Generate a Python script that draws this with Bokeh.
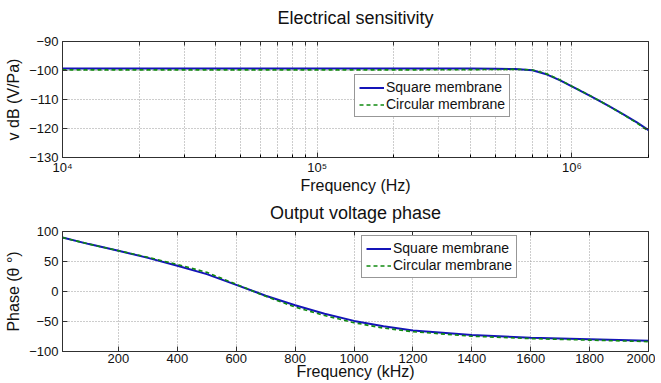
from bokeh.plotting import figure
from bokeh.layouts import column
from bokeh.models import (FixedTicker, CustomJSTickFormatter, Range1d, Legend, LegendItem,
                          LinearAxis, LogAxis)
from bokeh.embed import file_html
from bokeh.resources import INLINE

# ---------------- data ----------------
freq_hz = [1e4, 2e4, 5e4, 1e5, 2e5, 3e5, 4e5, 5e5, 6e5, 7e5, 8e5, 9e5,
           1e6, 1.2e6, 1.4e6, 1.6e6, 1.8e6, 2e6]
square_db = [-99.3, -99.3, -99.3, -99.3, -99.3, -99.3, -99.35, -99.4, -99.5, -99.9,
             -101.4, -103.4, -105.5, -109.1, -112.3, -115.2, -117.9, -120.6]
circular_db = [-99.8, -99.8, -99.8, -99.8, -99.8, -99.75, -99.7, -99.65, -99.6, -99.8,
               -101.2, -103.3, -105.4, -109.0, -112.3, -115.3, -118.1, -120.9]

freq_khz = [10, 100, 200, 300, 400, 500, 600, 700, 800, 900, 1000, 1100, 1200,
            1400, 1600, 1800, 2000]
square_phase = [90, 79, 68, 56, 43, 29, 11, -7, -23, -37, -49, -58, -65,
                -72.5, -77, -79.5, -82]
circular_phase = [90, 79, 68, 57, 45, 32, 12, -8, -26, -40, -52, -61, -67,
                  -74.5, -78.5, -81, -83.5]

top_yticks = [-130, -120, -110, -100, -90]
top_xticks = [1e4, 1e5, 1e6]
top_xminor = [2e4, 3e4, 4e4, 5e4, 6e4, 7e4, 8e4, 9e4,
              2e5, 3e5, 4e5, 5e5, 6e5, 7e5, 8e5, 9e5, 2e6]
bot_xticks = [200, 400, 600, 800, 1000, 1200, 1400, 1600, 1800, 2000]
bot_yticks = [-100, -50, 0, 50, 100]

labels = ["Square membrane", "Circular membrane"]
titles = ["Electrical sensitivity", "Output voltage phase"]

# ---------------- style ----------------
FONT = "Liberation Sans"
BLUE = "#1414b8"
GREEN = "#108a10"
GRID = "#9a9a9a"
W = 655


def style(p, title, xlabel, ylabel, xlabel_standoff):
    p.title.text = title
    p.title.text_font = FONT
    p.title.text_font_size = "18px"
    p.title.text_font_style = "normal"
    p.title.text_color = "#111111"
    p.title.align = "center"
    p.title.standoff = 2
    p.outline_line_color = "#303030"
    p.outline_line_alpha = 1
    p.background_fill_color = "white"
    p.border_fill_color = "white"
    for ax in (p.xaxis[0], p.yaxis[0]):
        ax.axis_label_text_font = FONT
        ax.axis_label_text_font_style = "normal"
        ax.axis_label_text_font_size = "16px"
        ax.axis_label_text_color = "#111111"
        ax.major_label_text_font = FONT
        ax.major_label_text_font_size = "13px"
        ax.major_label_text_color = "#111111"
        ax.axis_line_color = "#303030"
        ax.major_tick_in = 5
        ax.major_tick_out = 0
        ax.minor_tick_in = 0
        ax.minor_tick_out = 0
        ax.major_tick_line_color = "#303030"
    p.xaxis.axis_label = xlabel
    p.yaxis.axis_label = ylabel
    p.xaxis.major_label_standoff = 2
    p.xaxis.axis_label_standoff = xlabel_standoff
    p.yaxis.major_label_standoff = 4
    p.yaxis.axis_label_standoff = 4
    for g in (p.xgrid[0], p.ygrid[0]):
        g.grid_line_color = GRID
        g.grid_line_dash = "1 2"
        g.grid_line_width = 1


def top_box_axis(axis_cls, ticks, marks, gap):
    # MATLAB-style inward tick marks on the top side of the box; the invisible
    # outward major ticks only reserve room between the frame and the title
    ax = axis_cls(ticker=FixedTicker(ticks=ticks, minor_ticks=marks),
                  formatter=CustomJSTickFormatter(code="return ''"))
    ax.major_label_text_font_size = "1px"
    ax.major_label_standoff = 0
    ax.axis_line_color = None
    ax.major_tick_in = 0
    ax.major_tick_out = gap
    ax.major_tick_line_color = None
    ax.minor_tick_in = 4
    ax.minor_tick_out = 0
    ax.minor_tick_line_color = "#303030"
    return ax


def right_box_axis(ticks):
    ax = LinearAxis(ticker=FixedTicker(ticks=ticks),
                    formatter=CustomJSTickFormatter(code="return ''"))
    ax.major_label_text_font_size = "1px"
    ax.major_label_standoff = 0
    ax.axis_line_color = None
    ax.major_tick_in = 5
    ax.major_tick_out = 0
    ax.major_tick_line_color = "#303030"
    ax.minor_tick_in = 0
    ax.minor_tick_out = 0
    return ax


# ---------------- top figure ----------------
p1 = figure(width=W, height=196, x_axis_type="log",
            x_range=Range1d(1e4, 2e6), y_range=Range1d(-130, -90),
            output_backend="svg", toolbar_location=None,
            min_border_left=62, min_border_right=7, min_border_top=41,
            min_border_bottom=35)
style(p1, titles[0], "Frequency (Hz)", "v dB (V/Pa)", -1)
p1.xaxis.ticker = FixedTicker(ticks=top_xticks, minor_ticks=top_xminor)
p1.xaxis.minor_tick_in = 3
p1.xaxis.formatter = CustomJSTickFormatter(code="""
const sup = {4: '\u2074', 5: '\u2075', 6: '\u2076'};
const e = Math.round(Math.log10(tick));
return '10' + sup[e];
""")
p1.yaxis.ticker = FixedTicker(ticks=top_yticks)
p1.xgrid.minor_grid_line_color = GRID
p1.xgrid.minor_grid_line_dash = "1 2"
p1.add_layout(top_box_axis(LogAxis, top_xticks, top_xticks + top_xminor, 13), "above")
p1.add_layout(right_box_axis(top_yticks), "right")

r1 = p1.line(freq_hz, square_db, line_color=BLUE, line_width=2)
r2 = p1.line(freq_hz, circular_db, line_color=GREEN, line_width=1.6, line_dash="4 3")

# ---------------- bottom figure ----------------
p2 = figure(width=W, height=187,
            x_range=Range1d(10, 2000), y_range=Range1d(-100, 100),
            output_backend="svg", toolbar_location=None,
            min_border_left=62, min_border_right=7, min_border_top=35,
            min_border_bottom=32)
style(p2, titles[1], "Frequency (kHz)", "Phase (\u03b8 \u00b0)", -3)
p2.xaxis.ticker = FixedTicker(ticks=bot_xticks)
p2.yaxis.ticker = FixedTicker(ticks=bot_yticks)
p2.add_layout(top_box_axis(LinearAxis, bot_xticks, bot_xticks, 8), "above")
p2.add_layout(right_box_axis(bot_yticks), "right")

r3 = p2.line(freq_khz, square_phase, line_color=BLUE, line_width=2)
r4 = p2.line(freq_khz, circular_phase, line_color=GREEN, line_width=1.6, line_dash="4 3")


def add_legend(p, ra, rb, loc):
    lg = Legend(items=[LegendItem(label=labels[0], renderers=[ra]),
                       LegendItem(label=labels[1], renderers=[rb])],
                location=loc)
    lg.label_text_font = FONT
    lg.label_text_font_size = "14px"
    lg.label_text_color = "#111111"
    lg.glyph_width = 25
    lg.glyph_height = 15
    lg.label_height = 15
    lg.label_standoff = 2
    lg.spacing = 1
    lg.padding = 4
    lg.margin = 0
    lg.border_line_color = "#303030"
    lg.border_line_width = 1
    lg.background_fill_color = "white"
    lg.background_fill_alpha = 1
    p.add_layout(lg, "center")


add_legend(p1, r1, r2, (292, 40))
add_legend(p2, r3, r4, (299, 73))

layout = column(p1, p2, spacing=0)
open("out.html", "w").write(file_html(layout, INLINE))
